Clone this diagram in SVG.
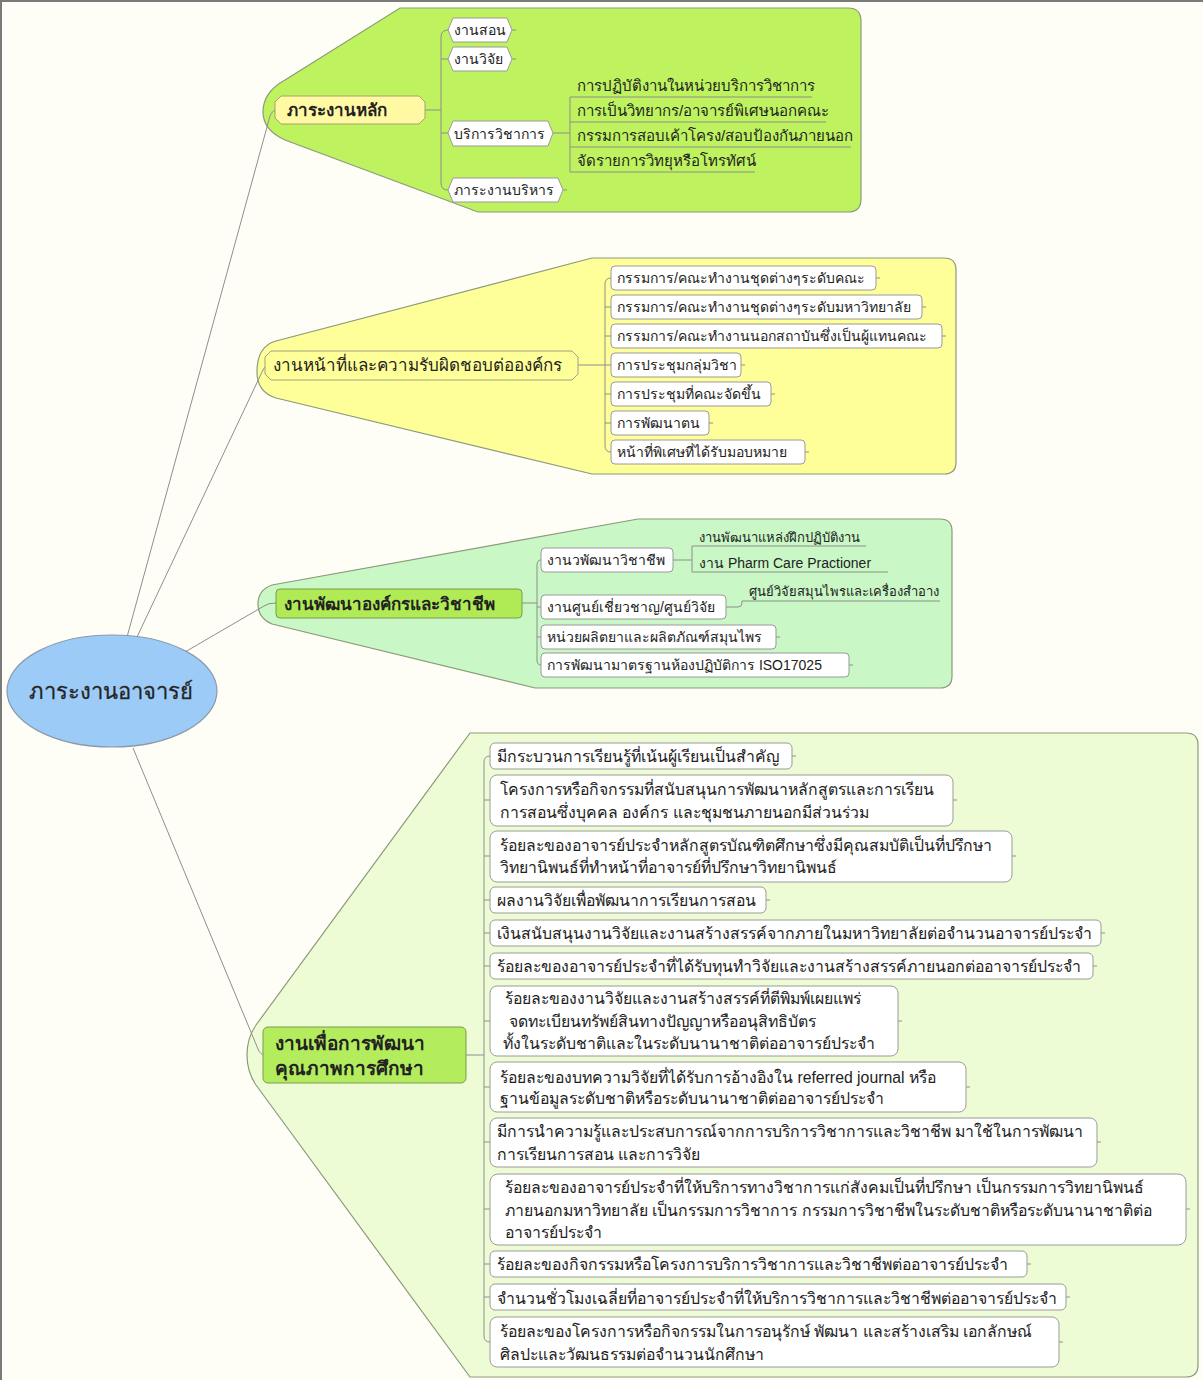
<svg xmlns="http://www.w3.org/2000/svg" width="1203" height="1380" viewBox="0 0 1203 1380">
<style>
text{font-family:"Liberation Sans","Noto Sans",sans-serif;fill:#222;}
.conn{fill:none;stroke:#8e8e8e;stroke-width:1;}
.bnd{stroke:#8a9a7a;stroke-width:1.2;}
.box{fill:#fff;stroke:#9a9a9a;stroke-width:1;}
.t14{font-size:14px;}
.t15{font-size:15px;}
.t16{font-size:15.8px;}
.t13{font-size:13px;}
.ul{fill:none;stroke:#8e8e8e;stroke-width:1;}
.main{font-size:17px;font-weight:bold;}
</style>
<rect x="0" y="0" width="1203" height="1380" fill="#FFFEF6"/>
<path d="M1 1380 L1 1 L1203 1" fill="none" stroke="#7a7a7a" stroke-width="2"/>

<!-- boundaries -->
<g id="boundaries">
<path class="bnd" fill="#BEF35F" d="M400 8 L848 8 Q861 8 861 21 L861 199 Q861 212 848 212 L478 212 L285 140 Q263 130 263 112 Q263 92 285 80 Z"/>
<path class="bnd" fill="#FFFF99" d="M592 258 L944 258 Q956 258 956 270 L956 462 Q956 474 944 474 L592 474 L276 398 Q257 392 257 372 Q257 346 276 341 Z"/>
<path class="bnd" fill="#C9F7C6" d="M638 519 L940 519 Q952 519 952 531 L952 676 Q952 688 940 688 L535 688 L272 624 Q258 618 258 604 Q258 590 272 585 Z"/>
<path class="bnd" fill="#EEFCD6" d="M470 733 L1186 733 Q1198 733 1198 745 L1198 1365 Q1198 1377 1186 1377 L470 1377 L256 1085 Q247 1072 247 1055 Q247 1038 256 1025 Z"/>
</g>

<!-- connectors -->
<g id="connectors">
<path class="conn" d="M127 637 L270 116 Q272 110 278 110"/>
<path class="conn" d="M137 637 L262 372 Q264 366 268 366"/>
<path class="conn" d="M185 652 L264 606 Q268 603 276 603"/>
<path class="conn" d="M133 748 L258 1049 Q260 1055 266 1055"/>
<!-- branch 1 -->
<path class="conn" d="M425 110 L441 110"/>
<path class="conn" d="M448 30 Q441 30 441 37 L441 183 Q441 190 448 190"/>
<path class="conn" d="M441 59 L448 59 M441 133 L448 133"/>
<path class="conn" d="M553 133 L570 133"/>
<path class="conn" d="M570 97 L570 172"/>
<path class="ul" d="M570 97 L812 97 M570 122 L826 122 M570 147 L851 147 M570 172 L755 172"/>
<!-- branch 2 -->
<path class="conn" d="M578 365 L605 365"/>
<path class="conn" d="M611 278 Q605 278 605 284 L605 446 Q605 452 611 452"/>
<path class="conn" d="M605 307 L611 307 M605 336 L611 336 M605 365 L611 365 M605 394 L611 394 M605 423 L611 423"/>
<!-- branch 3 -->
<path class="conn" d="M522 603 L537 603"/>
<path class="conn" d="M541 560 Q537 560 537 565 L537 660 Q537 665 541 665"/>
<path class="conn" d="M537 607 L541 607 M537 637 L541 637"/>
<path class="conn" d="M673 560 L692 560 M692 546 L692 572"/>
<path class="ul" d="M692 546 L866 546 M692 572 L888 572"/>
<path class="conn" d="M726 607 L738 607 Q742 607 742 603 L742 601"/>
<path class="ul" d="M742 601 L940 601"/>
<!-- branch 4 -->
<path class="conn" d="M466 1055 L484 1055"/>
<path class="conn" d="M490 756 Q484 756 484 762 L484 1336 Q484 1342 490 1342"/>
<path class="conn" d="M484 800 L490 800 M484 856 L490 856 M484 900 L490 900 M484 933 L490 933 M484 966 L490 966 M484 1021 L490 1021 M484 1087 L490 1087 M484 1142 L490 1142 M484 1209 L490 1209 M484 1264 L490 1264 M484 1297 L490 1297"/>
<!-- right stubs -->
<path class="conn" d="M512 30 L516 30 M512 59 L516 59 M563 190 L567 190
M876 278 L880 278 M922 307 L926 307 M942 336 L946 336 M741 365 L745 365 M771 394 L775 394 M709 423 L713 423 M805 452 L809 452
M776 637 L780 637 M849 665 L853 665
M792 756 L796 756 M953 800 L957 800 M1012 856 L1016 856 M766 900 L770 900 M1101 933 L1105 933 M1093 966 L1097 966 M898 1021 L902 1021 M966 1087 L970 1087 M1097 1142 L1101 1142 M1186 1209 L1190 1209 M1027 1264 L1031 1264 M1066 1297 L1070 1297 M1059 1342 L1063 1342"/>
</g>

<!-- root -->
<g id="root">
<ellipse cx="112" cy="691" rx="105" ry="56" fill="#9DCBF7" stroke="#8a9aab" stroke-width="1.2"/>
<text x="111" y="699" font-size="22" text-anchor="middle" fill="#333" stroke="#333" stroke-width="0.3">ภาระงานอาจารย์</text>
</g>

<!-- branch 1 -->
<g id="n-main-load">
<polygon points="281,96 419,96 425,102 425,118 419,124 281,124 275,118 275,102" fill="#FFF9A3" stroke="#a8a070"/>
<text x="287" y="116" class="main">ภาระงานหลัก</text>
</g>
<g id="n-teach"><polygon class="box" points="453,18 507,18 512,30 507,42 453,42 448,30"/><text x="454" y="35" class="t14">งานสอน</text></g>
<g id="n-research"><polygon class="box" points="453,47 507,47 512,59 507,71 453,71 448,59"/><text x="454" y="64" class="t14">งานวิจัย</text></g>
<g id="n-service"><polygon class="box" points="453,121 548,121 553,133 548,146 453,146 448,133"/><text x="454" y="139" class="t14">บริการวิชาการ</text></g>
<g id="n-admin"><polygon class="box" points="453,178 558,178 563,190 558,202 453,202 448,190"/><text x="454" y="195" class="t14">ภาระงานบริหาร</text></g>
<g id="n-s1"><text x="577" y="91" class="t15">การปฏิบัติงานในหน่วยบริการวิชาการ</text></g>
<g id="n-s2"><text x="577" y="116" class="t15">การเป็นวิทยากร/อาจารย์พิเศษนอกคณะ</text></g>
<g id="n-s3"><text x="577" y="141" class="t15">กรรมการสอบเค้าโครง/สอบป้องกันภายนอก</text></g>
<g id="n-s4"><text x="577" y="166" class="t15">จัดรายการวิทยุหรือโทรทัศน์</text></g>

<!-- branch 2 -->
<g id="n-duty">
<polygon points="271,351 572,351 578,357 578,374 572,380 271,380 265,374 265,357" fill="#FFFF99" stroke="#a0a080"/>
<text x="273" y="371" font-size="17">งานหน้าที่และความรับผิดชอบต่อองค์กร</text>
</g>
<g id="n-d1"><rect class="box" x="611" y="266" width="265" height="24" rx="4"/><text x="617" y="283" class="t14">กรรมการ/คณะทำงานชุดต่างๆระดับคณะ</text></g>
<g id="n-d2"><rect class="box" x="611" y="295" width="311" height="24" rx="4"/><text x="617" y="312" class="t14">กรรมการ/คณะทำงานชุดต่างๆระดับมหาวิทยาลัย</text></g>
<g id="n-d3"><rect class="box" x="611" y="324" width="331" height="24" rx="4"/><text x="617" y="341" class="t14">กรรมการ/คณะทำงานนอกสถาบันซึ่งเป็นผู้แทนคณะ</text></g>
<g id="n-d4"><rect class="box" x="611" y="353" width="130" height="24" rx="4"/><text x="617" y="370" class="t14">การประชุมกลุ่มวิชา</text></g>
<g id="n-d5"><rect class="box" x="611" y="382" width="160" height="24" rx="4"/><text x="617" y="399" class="t14">การประชุมที่คณะจัดขึ้น</text></g>
<g id="n-d6"><rect class="box" x="611" y="411" width="98" height="24" rx="4"/><text x="617" y="428" class="t14">การพัฒนาตน</text></g>
<g id="n-d7"><rect class="box" x="611" y="440" width="194" height="24" rx="4"/><text x="617" y="457" class="t14">หน้าที่พิเศษที่ได้รับมอบหมาย</text></g>

<!-- branch 3 -->
<g id="n-org">
<rect x="276" y="589" width="246" height="29" rx="4" fill="#B0EB55" stroke="#7f9a50"/>
<text x="284" y="610" class="main">งานพัฒนาองค์กรและวิชาชีพ</text>
</g>
<g id="n-o1"><rect class="box" x="541" y="548" width="132" height="24" rx="4"/><text x="547" y="565" class="t14">งานวพัฒนาวิชาชีพ</text></g>
<g id="n-o1a"><text x="699" y="542" class="t13">งานพัฒนาแหล่งฝึกปฏิบัติงาน</text></g>
<g id="n-o1b"><text x="699" y="568" class="t14">งาน Pharm Care Practioner</text></g>
<g id="n-o2"><rect class="box" x="541" y="595" width="185" height="24" rx="4"/><text x="547" y="612" class="t14">งานศูนย์เชี่ยวชาญ/ศูนย์วิจัย</text></g>
<g id="n-o2a"><text x="749" y="596" class="t13">ศูนย์วิจัยสมุนไพรและเครื่องสำอาง</text></g>
<g id="n-o3"><rect class="box" x="541" y="625" width="235" height="24" rx="4"/><text x="547" y="642" class="t14">หน่วยผลิตยาและผลิตภัณฑ์สมุนไพร</text></g>
<g id="n-o4"><rect class="box" x="541" y="653" width="308" height="24" rx="4"/><text x="547" y="670" class="t14">การพัฒนามาตรฐานห้องปฏิบัติการ ISO17025</text></g>

<!-- branch 4 -->
<g id="n-qa">
<rect x="263" y="1027" width="203" height="56" rx="5" fill="#B3EC5C" stroke="#7f9a50"/>
<text x="275" y="1050" font-size="19" font-weight="bold">งานเพื่อการพัฒนา</text>
<text x="275" y="1075" font-size="19" font-weight="bold">คุณภาพการศึกษา</text>
</g>
<g id="n-q1"><rect class="box" x="490" y="743" width="302" height="26" rx="5"/><text x="497" y="762" class="t16">มีกระบวนการเรียนรู้ที่เน้นผู้เรียนเป็นสำคัญ</text></g>
<g id="n-q2"><rect class="box" x="490" y="775" width="463" height="51" rx="7"/><text x="500" y="795" class="t16">โครงการหรือกิจกรรมที่สนับสนุนการพัฒนาหลักสูตรและการเรียน</text><text x="500" y="818" class="t16">การสอนซึ่งบุคคล องค์กร และชุมชนภายนอกมีส่วนร่วม</text></g>
<g id="n-q3"><rect class="box" x="490" y="831" width="522" height="51" rx="7"/><text x="500" y="851" class="t16">ร้อยละของอาจารย์ประจำหลักสูตรบัณฑิตศึกษาซึ่งมีคุณสมบัติเป็นที่ปรึกษา</text><text x="500" y="873" class="t16">วิทยานิพนธ์ที่ทำหน้าที่อาจารย์ที่ปรึกษาวิทยานิพนธ์</text></g>
<g id="n-q4"><rect class="box" x="490" y="887" width="276" height="26" rx="5"/><text x="497" y="906" class="t16">ผลงานวิจัยเพื่อพัฒนาการเรียนการสอน</text></g>
<g id="n-q5"><rect class="box" x="490" y="920" width="611" height="26" rx="5"/><text x="497" y="939" class="t16">เงินสนับสนุนงานวิจัยและงานสร้างสรรค์จากภายในมหาวิทยาลัยต่อจำนวนอาจารย์ประจำ</text></g>
<g id="n-q6"><rect class="box" x="490" y="953" width="603" height="26" rx="5"/><text x="497" y="972" class="t16">ร้อยละของอาจารย์ประจำที่ได้รับทุนทำวิจัยและงานสร้างสรรค์ภายนอกต่ออาจารย์ประจำ</text></g>
<g id="n-q7"><rect class="box" x="490" y="986" width="408" height="70" rx="7"/><text x="505" y="1004" class="t16">ร้อยละของงานวิจัยและงานสร้างสรรค์ที่ตีพิมพ์เผยแพร่</text><text x="509" y="1027" class="t16">จดทะเบียนทรัพย์สินทางปัญญาหรืออนุสิทธิบัตร</text><text x="503" y="1049" class="t16">ทั้งในระดับชาติและในระดับนานาชาติต่ออาจารย์ประจำ</text></g>
<g id="n-q8"><rect class="box" x="490" y="1062" width="476" height="50" rx="7"/><text x="500" y="1083" class="t16">ร้อยละของบทความวิจัยที่ได้รับการอ้างอิงใน referred journal หรือ</text><text x="500" y="1104" class="t16">ฐานข้อมูลระดับชาติหรือระดับนานาชาติต่ออาจารย์ประจำ</text></g>
<g id="n-q9"><rect class="box" x="490" y="1118" width="607" height="49" rx="7"/><text x="497" y="1137" class="t16">มีการนำความรู้และประสบการณ์จากการบริการวิชาการและวิชาชีพ มาใช้ในการพัฒนา</text><text x="497" y="1160" class="t16">การเรียนการสอน และการวิจัย</text></g>
<g id="n-q10"><rect class="box" x="490" y="1174" width="696" height="71" rx="8"/><text x="505" y="1193" class="t16">ร้อยละของอาจารย์ประจำที่ให้บริการทางวิชาการแก่สังคมเป็นที่ปรึกษา เป็นกรรมการวิทยานิพนธ์</text><text x="505" y="1216" class="t16">ภายนอกมหาวิทยาลัย เป็นกรรมการวิชาการ กรรมการวิชาชีพในระดับชาติหรือระดับนานาชาติต่อ</text><text x="505" y="1238" class="t16">อาจารย์ประจำ</text></g>
<g id="n-q11"><rect class="box" x="490" y="1251" width="537" height="26" rx="5"/><text x="497" y="1270" class="t16">ร้อยละของกิจกรรมหรือโครงการบริการวิชาการและวิชาชีพต่ออาจารย์ประจำ</text></g>
<g id="n-q12"><rect class="box" x="490" y="1284" width="576" height="26" rx="5"/><text x="497" y="1304" class="t16">จำนวนชั่วโมงเฉลี่ยที่อาจารย์ประจำที่ให้บริการวิชาการและวิชาชีพต่ออาจารย์ประจำ</text></g>
<g id="n-q13"><rect class="box" x="490" y="1317" width="569" height="50" rx="7"/><text x="500" y="1337" class="t16">ร้อยละของโครงการหรือกิจกรรมในการอนุรักษ์ พัฒนา และสร้างเสริม เอกลักษณ์</text><text x="500" y="1360" class="t16">ศิลปะและวัฒนธรรมต่อจำนวนนักศึกษา</text></g>
</svg>
